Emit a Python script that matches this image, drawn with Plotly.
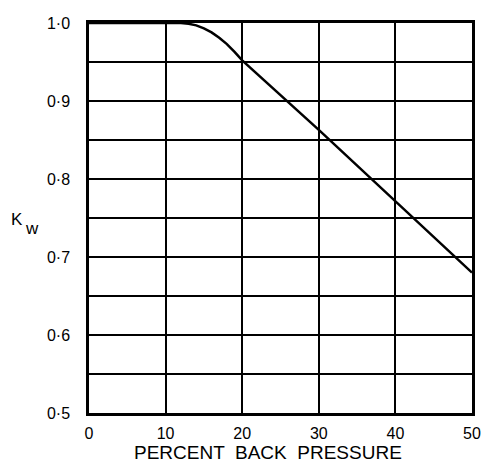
import plotly.graph_objects as go

# Data
back_pressure_pct = [0, 12, 13, 14, 15, 16, 17, 18, 19, 20, 30, 40, 50]
kw_values = [1.0, 1.0, 0.999, 0.997, 0.993, 0.988, 0.981, 0.973, 0.963, 0.952, 0.863, 0.772, 0.68]

x_ticks = [0, 10, 20, 30, 40, 50]
x_tick_labels = ["0", "10", "20", "30", "40", "50"]
y_ticks = [0.5, 0.6, 0.7, 0.8, 0.9, 1.0]
y_tick_labels = ["0·5", "0·6", "0·7", "0·8", "0·9", "1·0"]

FONT = "Liberation Sans"

fig = go.Figure()
fig.add_trace(go.Scatter(
    x=back_pressure_pct, y=kw_values, mode="lines",
    line=dict(color="black", width=2.5), showlegend=False, hoverinfo="skip",
))

fig.update_layout(
    width=493, height=475,
    margin=dict(l=89, r=13, t=23, b=62),
    paper_bgcolor="white", plot_bgcolor="white",
    font=dict(family=FONT, size=16, color="black"),
    xaxis=dict(
        range=[0, 50], tickmode="array", tickvals=x_ticks, ticktext=x_tick_labels,
        showgrid=True, gridcolor="black", gridwidth=1.8,
        showline=True, linecolor="black", linewidth=2.5, mirror=True,
        zeroline=False, ticks="", ticklabelstandoff=4,
        tickfont=dict(family=FONT, size=16, color="black"),
    ),
    yaxis=dict(
        range=[0.5, 1.0], tickmode="array", tickvals=y_ticks, ticktext=y_tick_labels,
        showgrid=True, gridcolor="black", gridwidth=1.8,
        minor=dict(dtick=0.05, showgrid=True, gridcolor="black", gridwidth=1.8, tick0=0.5),
        showline=True, linecolor="black", linewidth=2.5, mirror=True,
        zeroline=False, ticks="", ticklabelstandoff=13,
        tickfont=dict(family=FONT, size=16, color="black"),
    ),
    annotations=[
        dict(text="PERCENT  BACK  PRESSURE", xref="paper", yref="paper",
             x=0.468, y=-0.1, xanchor="center", yanchor="middle", showarrow=False,
             font=dict(family=FONT, size=19, color="black")),
        dict(text="K", xref="paper", yref="paper",
             x=-0.189, y=0.497, xanchor="center", yanchor="middle", showarrow=False,
             font=dict(family=FONT, size=17, color="black")),
        dict(text="w", xref="paper", yref="paper",
             x=-0.148, y=0.474, xanchor="center", yanchor="middle", showarrow=False,
             font=dict(family=FONT, size=17, color="black")),
    ],
)

fig.write_html("out.html", config={"displayModeBar": False},
               post_script="document.body.style.margin='0';document.body.style.padding='0';")
